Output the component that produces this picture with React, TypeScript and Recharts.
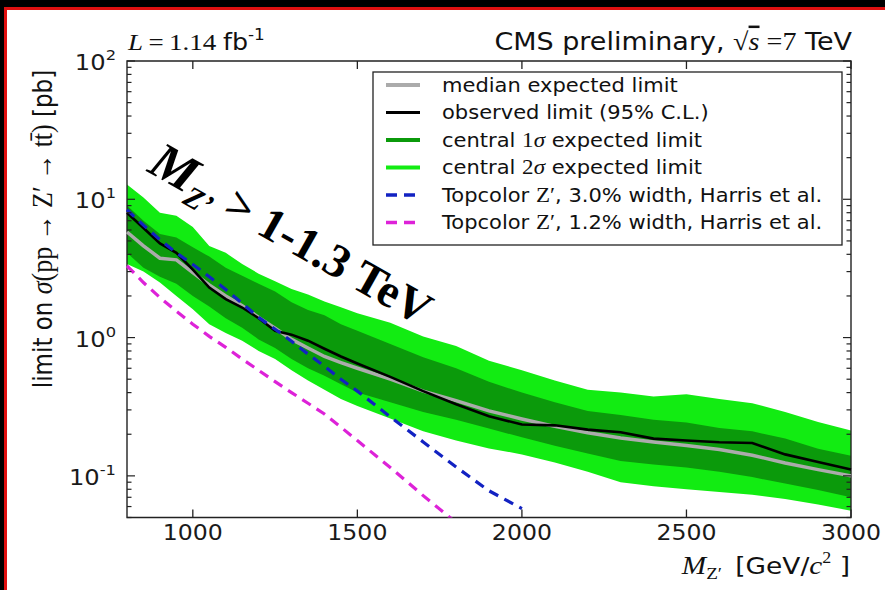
import React from 'react';
import { ComposedChart, Area, Line, XAxis, YAxis, ReferenceArea } from 'recharts';

// Z' mass points [GeV/c^2]
const MASS = [800, 850, 900, 950, 1000, 1050, 1100, 1150, 1200, 1250, 1300, 1350, 1400, 1450, 1500,
  1600, 1700, 1800, 1900, 2000, 2100, 2200, 2300, 2400, 2500, 2600, 2700, 2800, 2900, 3000];

// Cross-section limits [pb]
const EXPECTED_MEDIAN = [5.8, 4.6, 3.75, 3.65, 2.95, 2.4, 2.0, 1.7, 1.4, 1.17, 0.97, 0.84, 0.73, 0.66, 0.6,
  0.5, 0.41, 0.35, 0.295, 0.258, 0.228, 0.205, 0.188, 0.176, 0.166, 0.155, 0.141, 0.124, 0.111, 0.1];
const OBSERVED = [8.0, 6.2, 4.8, 4.1, 3.1, 2.3, 1.9, 1.65, 1.38, 1.12, 1.05, 0.95, 0.83, 0.73, 0.65,
  0.52, 0.41, 0.33, 0.27, 0.235, 0.232, 0.216, 0.207, 0.186, 0.18, 0.175, 0.173, 0.143, 0.126, 0.111];
const SIGMA2_UP = [12.8, 10.3, 8.0, 7.6, 6.3, 4.6, 4.1, 3.4, 2.9, 2.55, 2.25, 2.05, 1.82, 1.66, 1.5,
  1.28, 1.02, 0.87, 0.68, 0.58, 0.49, 0.42, 0.4, 0.375, 0.39, 0.36, 0.335, 0.29, 0.245, 0.213];
const SIGMA1_UP = [9.0, 7.0, 5.6, 5.3, 4.5, 3.85, 3.2, 2.8, 2.45, 2.15, 1.8, 1.58, 1.45, 1.25, 1.12,
  0.9, 0.72, 0.6, 0.48, 0.4, 0.34, 0.295, 0.275, 0.255, 0.243, 0.222, 0.21, 0.186, 0.157, 0.14];
const SIGMA1_DOWN = [4.1, 3.2, 2.75, 2.45, 2.0, 1.68, 1.38, 1.18, 0.97, 0.84, 0.7, 0.6, 0.53, 0.46, 0.4,
  0.34, 0.29, 0.255, 0.22, 0.19, 0.165, 0.145, 0.128, 0.121, 0.115, 0.107, 0.098, 0.088, 0.079, 0.07];
const SIGMA2_DOWN = [3.4, 3.0, 2.5, 2.0, 1.6, 1.25, 1.08, 0.95, 0.8, 0.7, 0.58, 0.49, 0.42, 0.36, 0.32,
  0.26, 0.21, 0.18, 0.158, 0.143, 0.125, 0.107, 0.09, 0.084, 0.08, 0.0765, 0.073, 0.068, 0.062, 0.056];

// Topcolor Z' theory predictions (defined up to 2000 and 1800 GeV)
const TOPCOLOR_30 = [8.4, 6.5, 5.1, 4.1, 3.38, 2.75, 2.23, 1.77, 1.4, 1.15, 0.94, 0.76, 0.62, 0.5, 0.41,
  0.267, 0.176, 0.116, 0.078, 0.058];
const TOPCOLOR_12 = [3.3, 2.5, 1.95, 1.55, 1.25, 1.02, 0.85, 0.7, 0.58, 0.48, 0.4, 0.335, 0.28, 0.225, 0.18,
  0.115, 0.072, 0.046];

const X_TICKS = [1000, 1500, 2000, 2500, 3000];
const Y_TICKS = [0.05, 0.06, 0.07, 0.08, 0.09, 0.1, 0.2, 0.3, 0.4, 0.5, 0.6, 0.7, 0.8, 0.9,
  1, 2, 3, 4, 5, 6, 7, 8, 9, 10, 20, 30, 40, 50, 60, 70, 80, 90, 100];

const COLORS = {
  sigma2: '#12ec12',
  sigma1: '#0b9a0b',
  median: '#ababab',
  observed: '#000000',
  tc30: '#1222c2',
  tc12: '#dd22d8',
  axis: '#222222',
};

const SANS = '"DejaVu Sans", sans-serif';
const SERIF = '"Liberation Serif", "DejaVu Serif", serif';

const W = 885;
const H = 590;
const MARGIN = { top: 61, right: 34, left: 0, bottom: 0 };
const Y_AXIS_W = 127;
const X_AXIS_H = 72.5;
const PLOT_TOP = MARGIN.top;
const PLOT_RIGHT = W - MARGIN.right;
const STRETCH = 1.125;

const rows = MASS.map((m, i) => ({
  mass: m,
  band2: [SIGMA2_DOWN[i], SIGMA2_UP[i]],
  band1: [SIGMA1_DOWN[i], SIGMA1_UP[i]],
  median: EXPECTED_MEDIAN[i],
  observed: OBSERVED[i],
  tc30: TOPCOLOR_30[i] ?? null,
  tc12: TOPCOLOR_12[i] ?? null,
}));

type Part = { t: string; serif?: boolean; italic?: boolean };
type LegendItem = { parts: Part[]; color: string; width: number; dash?: string };

const LEGEND_ITEMS: LegendItem[] = [
  { parts: [{ t: 'median expected limit' }], color: COLORS.median, width: 4 },
  { parts: [{ t: 'observed limit (95% C.L.)' }], color: COLORS.observed, width: 3 },
  { parts: [{ t: 'central ' }, { t: '1', serif: true }, { t: 'σ', serif: true, italic: true }, { t: ' expected limit' }], color: COLORS.sigma1, width: 4 },
  { parts: [{ t: 'central ' }, { t: '2', serif: true }, { t: 'σ', serif: true, italic: true }, { t: ' expected limit' }], color: COLORS.sigma2, width: 4 },
  { parts: [{ t: 'Topcolor ' }, { t: 'Z′', serif: true }, { t: ', 3.0% width, Harris et al.' }], color: COLORS.tc30, width: 3.5, dash: '11 7' },
  { parts: [{ t: 'Topcolor ' }, { t: 'Z′', serif: true }, { t: ', 1.2% width, Harris et al.' }], color: COLORS.tc12, width: 3.5, dash: '11 7' },
];

function Stretch({ x, y, children }: { x: number; y: number; children: React.ReactNode }) {
  return <g transform={`translate(${x},${y}) scale(${STRETCH},1)`}>{children}</g>;
}

function XTick(props: any) {
  const { x, y, payload } = props;
  return (
    <g>
      <line x1={x} x2={x} y1={y} y2={y - 8} stroke={COLORS.axis} strokeWidth={1.3} />
      <line x1={x} x2={x} y1={PLOT_TOP} y2={PLOT_TOP + 8} stroke={COLORS.axis} strokeWidth={1.3} />
      <Stretch x={x} y={y + 22.5}>
        <text textAnchor="middle" fontFamily={SANS} fontSize={21} fill="#1a1a1a">{payload.value}</text>
      </Stretch>
    </g>
  );
}

function YTick(props: any) {
  const { x, y, payload } = props;
  const lg = Math.log10(payload.value);
  const exp = Math.round(lg);
  const major = Math.abs(lg - exp) < 1e-6;
  const len = major ? 8 : 4.5;
  return (
    <g>
      <line x1={x} x2={x + len} y1={y} y2={y} stroke={COLORS.axis} strokeWidth={1.2} />
      <line x1={PLOT_RIGHT} x2={PLOT_RIGHT - len} y1={y} y2={y} stroke={COLORS.axis} strokeWidth={1.2} />
      {major && (
        <Stretch x={x - 11} y={y + 9}>
          <text textAnchor="end" fontFamily={SANS} fontSize={21.5} fill="#1a1a1a">
            <tspan>10</tspan>
            <tspan fontSize={14.5} dy={-10}>{exp < 0 ? `-${-exp}` : exp}</tspan>
          </text>
        </Stretch>
      )}
    </g>
  );
}

function LegendBox() {
  const x0 = 373;
  const y0 = 72;
  const rowStep = 27.5;
  return (
    <g>
      <rect x={x0} y={y0} width={469} height={173} fill="#fff" stroke={COLORS.axis} strokeWidth={1.3} />
      {LEGEND_ITEMS.map((it, i) => {
        const cy = 85 + i * rowStep;
        return (
          <g key={i}>
            <line x1={386} x2={420} y1={cy} y2={cy} stroke={it.color} strokeWidth={it.width} strokeDasharray={it.dash} />
            <Stretch x={442} y={cy + 6.5}>
              <text fontFamily={SANS} fontSize={18.7} fill="#111">
                {it.parts.map((p, j) => (
                  <tspan key={j} fontFamily={p.serif ? SERIF : SANS} fontStyle={p.italic ? 'italic' : 'normal'}
                    fontSize={p.serif ? 20.5 : 18.7}>{p.t}</tspan>
                ))}
              </text>
            </Stretch>
          </g>
        );
      })}
    </g>
  );
}

function Overlay() {
  return (
    <svg width={W} height={H} style={{ position: 'absolute', left: 0, top: 0, pointerEvents: 'none' }}>
      <LegendBox />
      {/* luminosity */}
      <Stretch x={128} y={50}>
        <text fontSize={24} fill="#111">
          <tspan fontFamily={SERIF} fontStyle="italic">L</tspan>
          <tspan fontFamily={SERIF}>{'\u2009=\u20091.14 '}</tspan>
          <tspan fontFamily={SANS} fontSize={22.5}>fb</tspan>
          <tspan fontFamily={SANS} fontSize={15} dy={-10}>-1</tspan>
        </text>
      </Stretch>
      {/* experiment label */}
      <Stretch x={852} y={50}>
        <text textAnchor="end" fontSize={24} fill="#111">
          <tspan fontFamily={SANS}>CMS preliminary, </tspan>
          <tspan fontFamily={SERIF} fontSize={25}>√</tspan>
          <tspan fontFamily={SERIF} fontSize={25} fontStyle="italic" style={{ textDecoration: 'overline' }}>s</tspan>
          <tspan fontFamily={SERIF} fontSize={25}>{' =7'}</tspan>
          <tspan fontFamily={SANS}> TeV</tspan>
        </text>
      </Stretch>
      {/* y axis title */}
      <g transform={`translate(52,229) scale(${STRETCH},1) rotate(-90)`}>
        <text textAnchor="middle" fontSize={23} fill="#111">
          <tspan fontFamily={SANS}>limit on </tspan>
          <tspan fontFamily={SERIF} fontStyle="italic" fontSize={26}>σ</tspan>
          <tspan fontFamily={SERIF} fontSize={26}>{'(pp \u2192 Z′ \u2192 tt̄)'}</tspan>
          <tspan fontFamily={SANS}> [pb]</tspan>
        </text>
      </g>
      {/* x axis title */}
      <Stretch x={850} y={574}>
        <text textAnchor="end" fontSize={23.5} fill="#111">
          <tspan fontFamily={SERIF} fontStyle="italic" fontSize={26}>M</tspan>
          <tspan fontFamily={SERIF} fontSize={17} dy={5}>Z′</tspan>
          <tspan fontFamily={SANS} dy={-5}>{'\u2002[GeV/'}</tspan>
          <tspan fontFamily={SERIF} fontStyle="italic" fontSize={26}>c</tspan>
          <tspan fontFamily={SERIF} fontSize={16} dy={-11}>2</tspan>
          <tspan fontFamily={SANS} dy={11}>{' ]'}</tspan>
        </text>
      </Stretch>
      {/* mass exclusion annotation */}
      <text transform="translate(146,171) rotate(29.5)" fontFamily={SERIF} fontWeight="bold" fill="#000">
        <tspan fontSize={52} fontStyle="italic">M</tspan>
        <tspan fontSize={30} fontStyle="italic" dy={10}>Z’</tspan>
        <tspan fontSize={47} dy={-10}>{' > 1-1.3 TeV'}</tspan>
      </text>
    </svg>
  );
}

export default function App() {
  return (
    <div style={{ position: 'fixed', left: 0, top: 0, width: W, height: H, background: '#000', overflow: 'hidden' }}>
      <div style={{ position: 'absolute', left: 4, top: 7, right: 0, bottom: 0, background: '#e01010' }} />
      <div style={{ position: 'absolute', left: 7, top: 10, right: 0, bottom: 0, background: '#fff' }} />
      <div style={{ position: 'absolute', left: 0, top: 0 }}>
        <ComposedChart width={W} height={H} data={rows} margin={MARGIN}>
          <XAxis dataKey="mass" type="number" domain={[800, 3000]} ticks={X_TICKS} interval={0}
            height={X_AXIS_H} tickSize={0} tickMargin={0} tickLine={false} axisLine={false} tick={XTick} />
          <YAxis type="number" scale="log" domain={[0.05, 100]} ticks={Y_TICKS} interval={0} allowDataOverflow
            width={Y_AXIS_W} tickSize={0} tickMargin={0} tickLine={false} axisLine={false} tick={YTick} />
          <Area dataKey="band2" type="linear" stroke="none" fill={COLORS.sigma2} fillOpacity={1}
            isAnimationActive={false} dot={false} activeDot={false} />
          <Area dataKey="band1" type="linear" stroke="none" fill={COLORS.sigma1} fillOpacity={1}
            isAnimationActive={false} dot={false} activeDot={false} />
          <Line dataKey="median" type="linear" stroke={COLORS.median} strokeWidth={3.5}
            isAnimationActive={false} dot={false} activeDot={false} />
          <Line dataKey="observed" type="linear" stroke={COLORS.observed} strokeWidth={2.6}
            isAnimationActive={false} dot={false} activeDot={false} />
          <Line dataKey="tc30" type="linear" stroke={COLORS.tc30} strokeWidth={3.2} strokeDasharray="10 7"
            isAnimationActive={false} dot={false} activeDot={false} />
          <Line dataKey="tc12" type="linear" stroke={COLORS.tc12} strokeWidth={3.2} strokeDasharray="10 7"
            isAnimationActive={false} dot={false} activeDot={false} />
          <ReferenceArea x1={800} x2={3000} y1={0.05} y2={100} fill="none" fillOpacity={0}
            stroke={COLORS.axis} strokeWidth={1.4} />
        </ComposedChart>
      </div>
      <Overlay />
    </div>
  );
}
